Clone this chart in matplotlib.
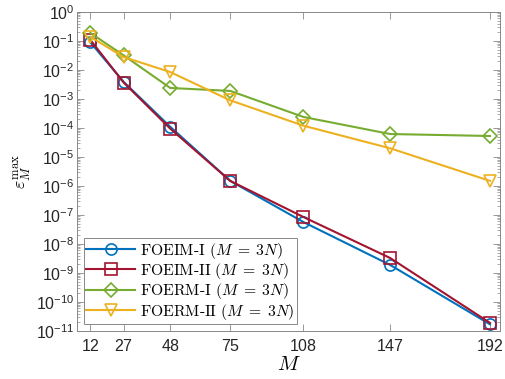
import numpy as np
import matplotlib.pyplot as plt
from matplotlib.ticker import LogLocator, FixedLocator, NullFormatter

# 수렴 결과 (M = 3N)
M = [12, 27, 48, 75, 108, 147, 192]
foeim_1 = [9.0e-2, 3.9e-3, 1.1e-4, 1.5e-6, 5.7e-8, 1.9e-9, 1.7e-11]
foeim_2 = [1.1e-1, 3.7e-3, 9.5e-5, 1.5e-6, 8.5e-8, 3.3e-9, 1.9e-11]
foerm_1 = [1.9e-1, 3.2e-2, 2.4e-3, 1.9e-3, 2.4e-4, 6.2e-5, 5.3e-5]
foerm_2 = [1.4e-1, 2.8e-2, 8.5e-3, 9.0e-4, 1.2e-4, 2.0e-5, 1.5e-6]

labels = [r'FOEIM-I $(M\;=\;3N)$', r'FOEIM-II $(M\;=\;3N)$',
          r'FOERM-I $(M\;=\;3N)$', r'FOERM-II $(M\;=\;3N)$']
colors = ['#0072BD', '#A2142F', '#77AC30', '#EDB120']
markers = ['o', 's', 'D', 'v']

plt.rcParams['font.family'] = ['Liberation Sans', 'DejaVu Sans']
plt.rcParams['mathtext.fontset'] = 'custom'
plt.rcParams['mathtext.rm'] = 'Liberation Sans'
plt.rcParams['mathtext.it'] = 'Liberation Sans:italic'
plt.rcParams['axes.formatter.use_mathtext'] = True

fig = plt.figure(figsize=(5.05, 3.79), dpi=100)
ax = fig.add_axes([77/505, 1 - 331/379, (500 - 77)/505, (331 - 12)/379])

series = [foeim_1, foeim_2, foerm_1, foerm_2]
for y, lab, c, mk in zip(series, labels, colors, markers):
    ms = 8 if mk != 'D' else 7
    ax.plot(M, y, color=c, marker=mk, markersize=ms, markerfacecolor='none',
            markeredgewidth=1.2, linewidth=1.5, label=lab)

ax.set_yscale('log')
ax.set_ylim(1e-11, 1)
ax.set_xlim(6, 196.5)
ax.xaxis.set_major_locator(FixedLocator(M))
ax.yaxis.set_major_locator(LogLocator(base=10, numticks=20))
ax.yaxis.set_minor_locator(LogLocator(base=10, subs=np.arange(2, 10), numticks=20))
ax.yaxis.set_minor_formatter(NullFormatter())

ax.tick_params(which='both', direction='in', top=True, right=True,
               color='#888888', labelsize=11.5, labelcolor='#262626')
ax.tick_params(which='major', length=5, width=0.6, pad=2)
ax.tick_params(axis='x', pad=5)
ax.tick_params(which='minor', length=2.5, width=0.5)
for sp in ax.spines.values():
    sp.set_color('#888888')
    sp.set_linewidth(0.7)

ax.set_xlabel('$M$', fontsize=15, math_fontfamily='cm', labelpad=1)
ax.set_ylabel(r'$\varepsilon_M^{\max}$', fontsize=13, math_fontfamily='cm',
              labelpad=2)

leg = ax.legend(loc='lower left', prop={'family': 'cmr10', 'size': 11.3},
                handlelength=3.1, borderpad=0.15, labelspacing=0.02,
                handletextpad=0.3, borderaxespad=0.45, fancybox=False,
                framealpha=1, edgecolor='#888888')
leg.get_frame().set_linewidth(0.7)
for t in leg.get_texts():
    t.set_math_fontfamily('cm')

fig.savefig('out.png', dpi=100)
